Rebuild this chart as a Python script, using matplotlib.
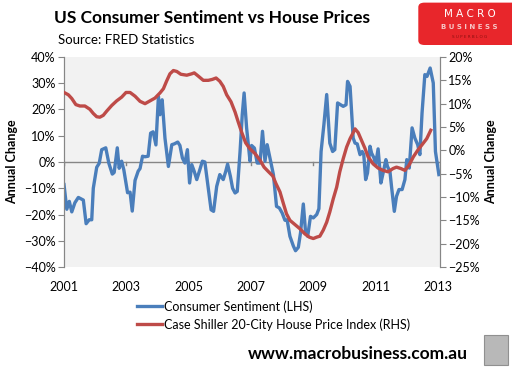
import matplotlib
matplotlib.use('Agg')
import matplotlib.pyplot as plt
from matplotlib.patches import FancyBboxPatch, Rectangle
from matplotlib.ticker import PercentFormatter

# Consumer sentiment, annual change % (LHS)
sent_year = [2001.00, 2001.09, 2001.17, 2001.25, 2001.35, 2001.46, 2001.62, 2001.71, 2001.81, 2001.89,
             2001.94, 2002.05, 2002.13, 2002.21, 2002.34, 2002.44, 2002.55, 2002.61, 2002.71, 2002.77,
             2002.85, 2002.92, 2003.04, 2003.12, 2003.19, 2003.28, 2003.38, 2003.44, 2003.52, 2003.60,
             2003.70, 2003.78, 2003.86, 2003.95, 2004.03, 2004.08, 2004.15, 2004.24, 2004.35, 2004.46,
             2004.54, 2004.65, 2004.72, 2004.80, 2004.88, 2004.96, 2005.03, 2005.10, 2005.18, 2005.26,
             2005.36, 2005.44, 2005.52, 2005.63, 2005.72, 2005.80, 2005.90, 2006.00, 2006.11, 2006.19,
             2006.25, 2006.34, 2006.41, 2006.49, 2006.56, 2006.65, 2006.72, 2006.78, 2006.86, 2006.97,
             2007.02, 2007.11, 2007.20, 2007.29, 2007.37, 2007.45, 2007.52, 2007.63, 2007.72, 2007.82,
             2007.91, 2008.00, 2008.09, 2008.16, 2008.25, 2008.36, 2008.43, 2008.52, 2008.59, 2008.68,
             2008.75, 2008.82, 2008.91, 2009.00, 2009.11, 2009.18, 2009.25, 2009.34, 2009.43, 2009.53,
             2009.62, 2009.69, 2009.78, 2009.88, 2009.96, 2010.05, 2010.10, 2010.18, 2010.23, 2010.28,
             2010.34, 2010.41, 2010.50, 2010.57, 2010.62, 2010.68, 2010.74, 2010.82, 2010.87, 2010.95,
             2011.00, 2011.08, 2011.17, 2011.24, 2011.33, 2011.38, 2011.46, 2011.51, 2011.60, 2011.67,
             2011.75, 2011.85, 2011.94, 2012.00, 2012.08, 2012.17, 2012.26, 2012.35, 2012.42, 2012.49,
             2012.58, 2012.65, 2012.75, 2012.85, 2012.92, 2013.03]
sentiment = [-8.6, -18, -15, -19, -15.5, -13.5, -14.5, -23.5, -22, -22,
             -10, -2, -0.5, 4.7, 5.4, -0.5, -4.6, -4, 5.4, -2.4,
             0.3, -3, -11.7, -11.5, -18.7, -7, -3.5, -2.5, 2.2, 2,
             2.2, 11, 11.5, 6.5, 25, 18, 23.7, 9.1, -1.7, 6.6,
             6.9, 7.6, 6.3, 1.5, -0.4, 4.7, -8, -1, -3.6, -6.7,
             -2.9, 0.3, 0, -10, -18.2, -18.8, -9.3, -4.8, -6.7, -3.6,
             -0.8, -5.5, -10, -11.8, -11.2, 4, 18, 26.3, 13, 0.3,
             6.3, 5.3, -0.4, -0.4, 11.7, 0.3, 6.6, 0.3, -4.8, -16.9,
             -17.5, -19.4, -22.2, -22, -28.3, -32, -33.8, -32.5, -27, -16,
             -26.4, -28.3, -20.7, -21.3, -20, -17.8, 4, 14.2, 25.7, 7.2,
             4, 4.7, 22.5, 21.8, 21.2, 21.8, 30.7, 28.8, 18.7, 9.1,
             7.2, 6.9, 2.8, 4, 2.8, -6.7, -4.2, 6, 3.4, 1.5,
             -1, 5, -8, -4.2, 0.9, -1.7, -3.6, -9.3, -18.8, -13.1,
             -10.5, -10.5, -6.7, 0.9, -2.3, 13, 9.1, 6.6, 2.8, 18.7,
             33.3, 32.6, 35.8, 30.1, 4, -4.8]

# Case Shiller 20-city, annual change % (RHS)
hpi_year = [2001.00, 2001.14, 2001.25, 2001.38, 2001.51, 2001.67, 2001.83, 2001.94, 2002.05, 2002.15,
            2002.26, 2002.37, 2002.53, 2002.69, 2002.85, 2002.99, 2003.12, 2003.28, 2003.44, 2003.60,
            2003.76, 2003.92, 2004.08, 2004.19, 2004.29, 2004.40, 2004.51, 2004.62, 2004.75, 2004.94,
            2005.10, 2005.18, 2005.31, 2005.47, 2005.63, 2005.76, 2005.88, 2006.00, 2006.11, 2006.22,
            2006.36, 2006.49, 2006.59, 2006.70, 2006.83, 2006.97, 2007.13, 2007.29, 2007.42, 2007.55,
            2007.70, 2007.80, 2007.93, 2008.04, 2008.14, 2008.25, 2008.41, 2008.57, 2008.73, 2008.87,
            2009.00, 2009.11, 2009.21, 2009.32, 2009.43, 2009.53, 2009.64, 2009.75, 2009.85, 2009.96,
            2010.07, 2010.18, 2010.25, 2010.34, 2010.44, 2010.55, 2010.66, 2010.76, 2010.92, 2011.08,
            2011.24, 2011.40, 2011.56, 2011.67, 2011.81, 2011.94, 2012.07, 2012.21, 2012.35, 2012.49,
            2012.64, 2012.77]
hpi = [12.4, 11.9, 11.1, 9.8, 9.5, 9.5, 8.8, 7.9, 7.2, 7.1,
       7.5, 8.4, 9.6, 10.6, 11.4, 12.4, 12.4, 11.6, 10.5, 10,
       10.6, 11.2, 12.3, 13.2, 14.8, 16.4, 17.1, 16.9, 16.3, 16.1,
       16.4, 16.6, 15.9, 15, 15, 15.2, 15.5, 14.8, 13.7, 11.9,
       10.4, 8.2, 6.1, 3.9, 1.6, 0.3, -0.7, -2.1, -3.6, -4.5,
       -5.5, -7.1, -8.9, -11.4, -13.6, -15, -15.9, -16.8, -17.9, -18.6,
       -18.9, -18.6, -18.4, -17.1, -15.4, -13.2, -10.4, -7.9, -4.6, -1.8,
       0.7, 2.5, 3.4, 4.6, 3.8, 2.1, 0.4, -1.4, -2.9, -3.8,
       -4.3, -4.6, -3.9, -3.6, -3.9, -4.3, -3.2, -1.4, 0, 1.2,
       2.5, 4.3]

year_ticks = [2001, 2003, 2005, 2007, 2009, 2011, 2013]

blue = '#4A7EBB'
red = '#BE4B48'
font = 'Lato'

fig = plt.figure(figsize=(5.12, 3.75), dpi=100)
ax = fig.add_axes([0.125, 0.288, 0.734, 0.56])
ax.set_facecolor('#F2F2F2')
ax2 = ax.twinx()
ax2.patch.set_visible(False)

l1, = ax.plot(sent_year, sentiment, color=blue, lw=2.4, zorder=3,
              label='Consumer Sentiment (LHS)')
l2, = ax2.plot(hpi_year, hpi, color=red, lw=2.4, zorder=3,
               label='Case Shiller 20-City House Price Index (RHS)')

ax.set_xlim(2001, 2013.06)
ax.set_ylim(-40, 40)
ax2.set_ylim(-25, 20)
ax.set_yticks(range(-40, 41, 10))
ax2.set_yticks(range(-25, 21, 5))
ax.yaxis.set_major_formatter(PercentFormatter(decimals=0))
ax2.yaxis.set_major_formatter(PercentFormatter(decimals=0))

# category axis crosses at zero
ax.axhline(0, color='#868686', lw=1, zorder=2)
for yr in year_ticks:
    ax.plot([yr, yr], [0, -1.3], color='#868686', lw=1, zorder=2)

ax.set_xticks(year_ticks)
ax.set_xticklabels([str(y) for y in year_ticks])
ax.tick_params(axis='x', length=0, pad=10, labelsize=9)
for a in (ax, ax2):
    for s in ('top', 'bottom'):
        a.spines[s].set_visible(False)
    a.spines['left'].set_color('#868686')
    a.spines['right'].set_color('#868686')
    a.tick_params(axis='y', colors='#868686', labelcolor='black', labelsize=9, length=4, pad=2)
    for lbl in a.get_xticklabels() + a.get_yticklabels():
        lbl.set_fontfamily(font)

ax.set_ylabel('Annual Change', fontsize=9, fontweight='bold', fontfamily=font)
ax2.set_ylabel('Annual Change', fontsize=9, fontweight='bold', fontfamily=font, rotation=90)
ax.yaxis.set_label_coords(-0.122, 0.5)
ax2.yaxis.set_label_coords(1.12, 0.5)

leg = fig.legend(handles=[l1, l2], loc='upper left', bbox_to_anchor=(0.258, 0.213),
                 frameon=False, fontsize=9, handlelength=2.0, handletextpad=0.15,
                 labelspacing=0.45, borderaxespad=0)
for t in leg.get_texts():
    t.set_fontfamily(font)

fig.text(0.105, 0.952, 'US Consumer Sentiment vs House Prices', fontsize=12.5,
         fontweight='bold', fontfamily=font, va='center', ha='left')
fig.text(0.113, 0.893, 'Source: FRED Statistics', fontsize=9.5, fontfamily=font,
         va='center', ha='left')
fig.text(0.913, 0.055, 'www.macrobusiness.com.au', fontsize=12.5, fontweight='bold',
         fontfamily=font, va='center', ha='right')

# logo box
logo = FancyBboxPatch((0.817, 0.88), 0.2, 0.113, boxstyle='round,pad=0,rounding_size=0.012',
                      transform=fig.transFigure, facecolor='#E8262B', edgecolor='none')
fig.patches.append(logo)
fig.text(0.917, 0.963, 'M A C R O', fontsize=7.5, color='white', fontfamily='DejaVu Sans',
         ha='center', va='center')
fig.text(0.917, 0.927, 'B U S I N E S S', fontsize=5, color='#F6C6C6', fontfamily='DejaVu Sans',
         ha='center', va='center', fontweight='bold')
fig.text(0.917, 0.902, 'S U P E R B L O G', fontsize=3, color='#8A1010',
         fontfamily='DejaVu Sans', ha='center', va='center')

# wolf picture placeholder
fig.patches.append(Rectangle((0.945, 0.026), 0.048, 0.08, transform=fig.transFigure,
                             facecolor='#B8B8B8', edgecolor='#909090', lw=0.8))

fig.savefig('out.png', dpi=100)
